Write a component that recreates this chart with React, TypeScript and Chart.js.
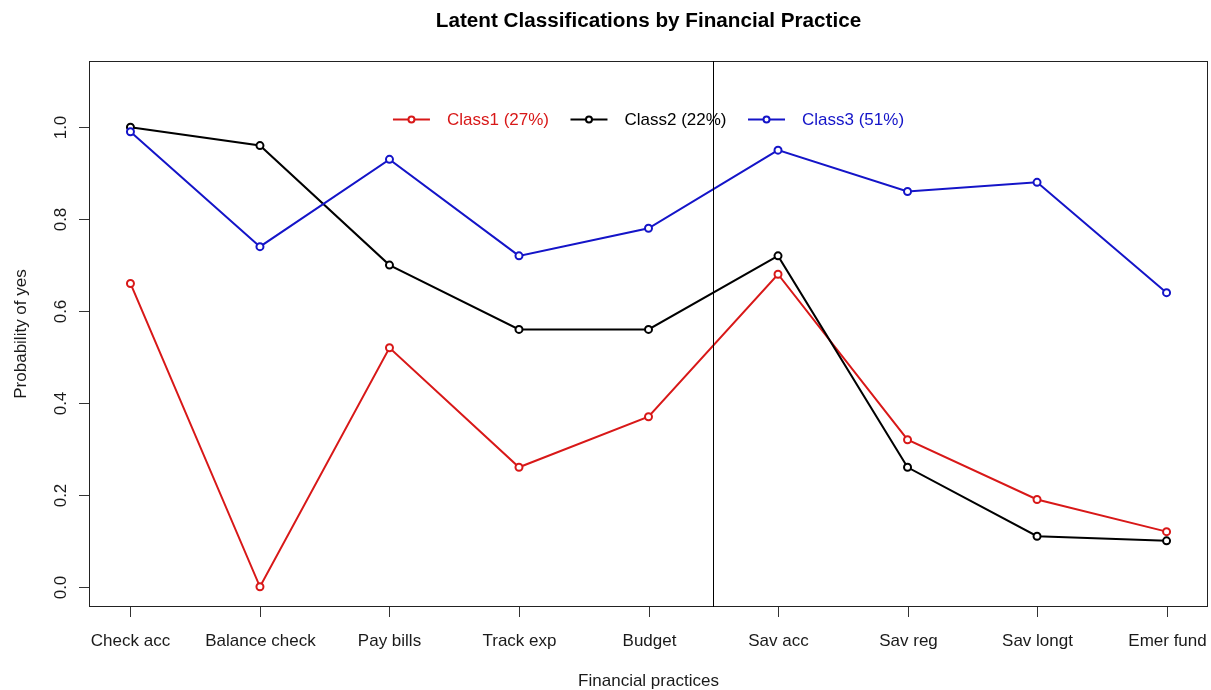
import React, { useEffect, useRef } from "react";
import { Chart, registerables } from "chart.js";

Chart.register(...registerables);

const categories = ["Check acc", "Balance check", "Pay bills", "Track exp", "Budget", "Sav acc", "Sav reg", "Sav longt", "Emer fund"];
const class1 = [0.66, 0.0, 0.52, 0.26, 0.37, 0.68, 0.32, 0.19, 0.12];
const class2 = [1.0, 0.96, 0.7, 0.56, 0.56, 0.72, 0.26, 0.11, 0.1];
const class3 = [0.99, 0.74, 0.93, 0.72, 0.78, 0.95, 0.86, 0.88, 0.64];
const seriesNames = ["Class1 (27%)", "Class2 (22%)", "Class3 (51%)"];
const seriesColors = ["#d81818", "#000000", "#1414c8"];
const yTicks = [0, 0.2, 0.4, 0.6, 0.8, 1.0];
const dividerAt = 4.5;
const titleText = "Latent Classifications by Financial Practice";
const xTitle = "Financial practices";
const yTitle = "Probability of yes";

const FONT = "'Liberation Sans', Arial, sans-serif";

const decorPlugin = {
  id: "decor",
  afterDraw(chart: any) {
    const ctx = chart.ctx as CanvasRenderingContext2D;
    const { left, right, top, bottom } = chart.chartArea;
    const xs = chart.scales.x;
    const ys = chart.scales.y;
    const cx = (left + right) / 2;
    ctx.save();

    // box
    ctx.strokeStyle = "#222";
    ctx.lineWidth = 1;
    ctx.strokeRect(Math.round(left) + 0.5, Math.round(top) + 0.5, Math.round(right - left) - 1, Math.round(bottom - top) - 1);

    // divider line
    const vx = Math.round(xs.getPixelForValue(dividerAt)) + 0.5;
    ctx.strokeStyle = "#000";
    ctx.beginPath();
    ctx.moveTo(vx, top);
    ctx.lineTo(vx, bottom);
    ctx.stroke();

    ctx.fillStyle = "#1a1a1a";
    ctx.strokeStyle = "#333";
    // x ticks + labels
    ctx.font = `17px ${FONT}`;
    ctx.textAlign = "center";
    ctx.textBaseline = "alphabetic";
    categories.forEach((c, i) => {
      const px = Math.round(xs.getPixelForValue(i)) + 0.5;
      ctx.beginPath();
      ctx.moveTo(px, bottom);
      ctx.lineTo(px, bottom + 10);
      ctx.stroke();
      ctx.fillText(c, px, 646);
    });

    // y ticks + labels
    yTicks.forEach((v) => {
      const py = Math.round(ys.getPixelForValue(v)) + 0.5;
      ctx.beginPath();
      ctx.moveTo(left - 10, py);
      ctx.lineTo(left, py);
      ctx.stroke();
      ctx.save();
      ctx.translate(61, py);
      ctx.rotate(-Math.PI / 2);
      ctx.textAlign = "center";
      ctx.textBaseline = "middle";
      ctx.fillText(v.toFixed(1), 0, 0);
      ctx.restore();
    });

    // axis titles
    ctx.textAlign = "center";
    ctx.textBaseline = "alphabetic";
    ctx.fillText(xTitle, cx, 686);
    ctx.save();
    ctx.translate(21, (top + bottom) / 2);
    ctx.rotate(-Math.PI / 2);
    ctx.textBaseline = "middle";
    ctx.fillText(yTitle, 0, 0);
    ctx.restore();

    // title
    ctx.font = `bold 20.7px ${FONT}`;
    ctx.fillStyle = "#000";
    ctx.fillText(titleText, cx, 27);

    // legend
    ctx.font = `17px ${FONT}`;
    const lineLen = 37;
    const gapAfterLine = 17;
    const gapAfterText = 21.5;
    const widths = seriesNames.map((n) => ctx.measureText(n).width);
    const total = widths.reduce((a, b) => a + b, 0) + seriesNames.length * (lineLen + gapAfterLine) + (seriesNames.length - 1) * gapAfterText;
    let x = cx - total / 2;
    const ly = 119.5;
    seriesNames.forEach((n, i) => {
      const col = seriesColors[i];
      ctx.strokeStyle = col;
      ctx.lineWidth = 2;
      ctx.beginPath();
      ctx.moveTo(x, ly);
      ctx.lineTo(x + lineLen, ly);
      ctx.stroke();
      ctx.beginPath();
      ctx.arc(x + lineLen / 2, ly, 3, 0, Math.PI * 2);
      ctx.fillStyle = "#fff";
      ctx.fill();
      ctx.stroke();
      x += lineLen + gapAfterLine;
      ctx.fillStyle = col;
      ctx.textAlign = "left";
      ctx.textBaseline = "middle";
      ctx.fillText(n, x, ly + 1);
      x += widths[i] + gapAfterText;
    });

    ctx.restore();
  },
};

export default function App() {
  const ref = useRef<HTMLCanvasElement | null>(null);
  useEffect(() => {
    if (!ref.current) return;
    const series = [class1, class2, class3];
    const chart = new Chart(ref.current, {
      type: "line",
      data: {
        datasets: series.map((arr, k) => ({
          label: seriesNames[k],
          data: arr.map((v, i) => ({ x: i, y: v })),
          borderColor: seriesColors[k],
          borderWidth: 2,
          pointRadius: 3.5,
          pointBorderWidth: 2,
          pointBackgroundColor: "#ffffff",
          pointBorderColor: seriesColors[k],
          tension: 0,
          fill: false,
          order: series.length - k,
        })),
      },
      options: {
        responsive: false,
        animation: false,
        layout: { autoPadding: false, padding: { left: 89, top: 61, right: 3, bottom: 83 } },
        scales: {
          x: { type: "linear", min: -0.32, max: 8.32, display: false, ticks: { display: false }, grid: { display: false }, border: { display: false } },
          y: { type: "linear", min: -0.044, max: 1.144, display: false, ticks: { display: false }, grid: { display: false }, border: { display: false } },
        },
        plugins: {
          legend: { display: false },
          title: { display: false },
          tooltip: { enabled: false },
        },
      },
      plugins: [decorPlugin],
    });
    return () => chart.destroy();
  }, []);
  return (
    <div style={{ position: "fixed", left: 0, top: 0, width: 1211, height: 690, background: "#fff" }}>
      <canvas ref={ref} width={1211} height={690} style={{ display: "block" }} />
    </div>
  );
}
